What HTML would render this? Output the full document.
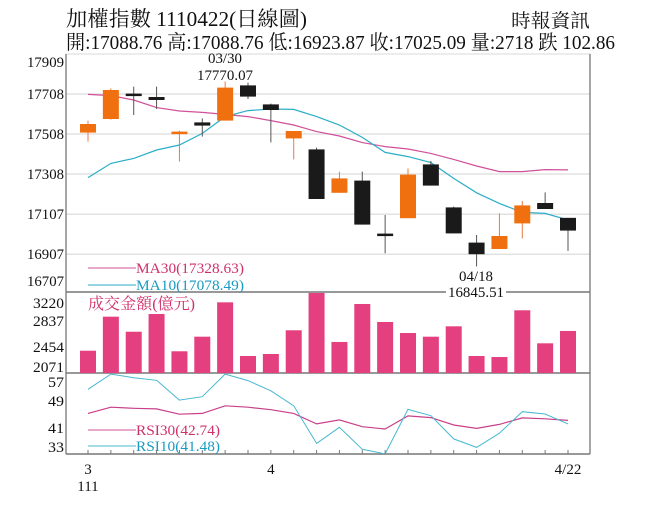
<!DOCTYPE html>
<html><head><meta charset="utf-8">
<style>
html,body{margin:0;padding:0;background:#fff;}
svg{display:block;}
text{font-family:"Liberation Serif","Noto Serif CJK TC","Noto Serif CJK SC",serif;}
</style></head>
<body>
<svg id="chart" width="656" height="506" viewBox="0 0 656 506" xmlns="http://www.w3.org/2000/svg">
  <text x="66" y="26" font-size="21" textLength="241" lengthAdjust="spacingAndGlyphs" fill="#111">加權指數 1110422(日線圖)</text>
  <text x="511" y="27" font-size="19" textLength="79" lengthAdjust="spacingAndGlyphs" fill="#111">時報資訊</text>
  <text x="66" y="49" font-size="20" textLength="549" lengthAdjust="spacingAndGlyphs" fill="#111">開:17088.76 高:17088.76 低:16923.87 收:17025.09 量:2718 跌 102.86</text>
  <g id="frame"></g>
  <g id="price"></g>
  <g id="vol"></g>
  <g id="rsi"></g>
  <g id="xaxis"></g>
</svg>
<script>
const opens  = [17515,17583,17710,17693,17511,17566,17575,17751,17656,17486,17431,17214,17275,17010,17087,17356,17141,16965,16933,17061,17163,17088.76];
const closes = [17558,17728,17700,17678,17520,17550,17740,17695,17628,17523,17183,17286,17055,16998,17305,17250,17011,16907,16998,17151,17133,17025.09];
const highs  = [17575,17736,17745,17745,17525,17586,17770.07,17765,17660,17523,17440,17320,17320,17103,17336,17373,17145,17003,17111,17173,17216,17088.76];
const lows   = [17470,17580,17603,17633,17370,17495,17575,17683,17466,17381,17183,17214,17055,16912,17087,17250,17011,16845.51,16933,16986,17133,16923.87];
const ma30   = [17706,17700,17678,17640,17623,17616,17606,17595,17575,17553,17520,17498,17465,17445,17433,17411,17381,17348,17320,17320,17330,17328.63];
const ma10   = [17290,17361,17386,17428,17453,17511,17595,17625,17633,17631,17595,17553,17491,17416,17395,17365,17286,17214,17161,17116,17111,17078.49];
const volumes= [2363,2974,2704,3022,2353,2615,3232,2268,2304,2730,3405,2520,3202,2879,2681,2615,2801,2268,2250,3089,2496,2718];
const rsi30  = [45.2,47.4,47.0,46.8,44.9,45.2,47.9,47.4,46.5,45.2,41.5,42.9,40.5,39.7,44.3,43.7,41.1,39.9,41.3,43.6,43.3,42.74];
const rsi10  = [53.7,59.1,57.8,56.9,49.9,51.1,59.1,56.8,53.2,47.9,34.6,40.3,32.5,30.9,46.6,44.4,36.2,33.2,38.2,45.8,45.0,41.48];
const priceTicks = [17909,17708,17508,17308,17107,16907,16707];
const volTicks = ["3220","2837","2454","2071"];
const rsiTicks = ["57","49","41","33"];
const xLabels = [{i:0,t:"3"},{i:8,t:"4"},{i:21,t:"4/22"}];

const NS="http://www.w3.org/2000/svg";
function mk(parent,tag,attrs,txt){const e=document.createElementNS(NS,tag);for(const k in attrs)e.setAttribute(k,attrs[k]);if(txt!==undefined)e.textContent=txt;parent.appendChild(e);return e;}
const L=66,R=590,PT=54,PB=292,VB=373,RB=454;
const xS=i=>88+i*(568-88)/21;
const yP=p=>94+(17708-p)*0.2;
const yV=v=>VB-(v-1963)*0.0557;
const yR=r=>380+(57-r)*2.83;

const frame=document.getElementById('frame');
// grid lines
[17708,17508,17308,17107,16907].forEach(p=>{
  const g=mk(frame,'line',{x1:L,x2:R,y1:yP(p),y2:yP(p),stroke:'#e2e2e2','stroke-width':1.5});
  
  
});
let e;
e=mk(frame,'line',{x1:L,x2:R,y1:PT,y2:PT,stroke:'#d8d8d8','stroke-width':1});

e=mk(frame,'line',{x1:L,x2:L,y1:PT,y2:RB,stroke:'#888','stroke-width':1.5});

e=mk(frame,'line',{x1:R,x2:R,y1:PT,y2:RB,stroke:'#888','stroke-width':1.5});

[PB,VB,RB].forEach(y=>{
  const l=mk(frame,'line',{x1:L,x2:R,y1:y,y2:y,stroke:'#777','stroke-width':1.5});
  
  
});

// price panel
const price=document.getElementById('price');
priceTicks.forEach((p,k)=>{
  const y = k===priceTicks.length-1 ? 286 : Math.max(yP(p),62)+5;
  const t=mk(price,'text',{x:27,y:y,'font-size':15,textLength:37,lengthAdjust:'spacingAndGlyphs',fill:'#111'},String(p));
  
  
});
function line(parent,arr,yf,color,name,w){
  const pts=arr.map((v,i)=>xS(i).toFixed(1)+','+yf(v).toFixed(1)).join(' ');
  const pl=mk(parent,'polyline',{points:pts,fill:'none',stroke:color,'stroke-width':w||1.2});
  
  
}
line(price,ma30,yP,'#d0509a','ma30-line');
line(price,ma10,yP,'#2aaec8','ma10-line');
opens.forEach((o,i)=>{
  const c=closes[i],up=c>=o,col=up?'#f07010':'#1a1a1a',x=xS(i);
  const w=mk(price,'line',{x1:x,x2:x,y1:yP(highs[i]),y2:yP(lows[i]),stroke:up?'#e87a40':'#555','stroke-width':1});
  
  
  const top=yP(Math.max(o,c)),h=Math.max(2.5,yP(Math.min(o,c))-top);
  const b=mk(price,'rect',{x:x-8,y:top,width:16,height:h,fill:col});
  
  
});
e=mk(price,'text',{x:225,y:63,'font-size':15,'text-anchor':'middle',textLength:34,lengthAdjust:'spacingAndGlyphs',fill:'#111'},'03/30');

e=mk(price,'text',{x:225,y:80,'font-size':15,'text-anchor':'middle',textLength:56,lengthAdjust:'spacingAndGlyphs',fill:'#111'},'17770.07');

e=mk(price,'text',{x:476,y:281,'font-size':15,'text-anchor':'middle',textLength:34,lengthAdjust:'spacingAndGlyphs',fill:'#111'},'04/18');

e=mk(price,'rect',{x:446,y:285,width:60,height:14,fill:'#fff'});

e=mk(price,'text',{x:476,y:297,'font-size':15,'text-anchor':'middle',textLength:56,lengthAdjust:'spacingAndGlyphs',fill:'#111'},'16845.51');

// legend
e=mk(price,'line',{x1:88,x2:136,y1:268,y2:268,stroke:'#d0509a','stroke-width':1});

e=mk(price,'text',{x:136,y:273,'font-size':15,textLength:108,lengthAdjust:'spacingAndGlyphs',fill:'#d0306a'},'MA30(17328.63)');

e=mk(price,'line',{x1:88,x2:136,y1:285,y2:285,stroke:'#2aaec8','stroke-width':1});

e=mk(price,'text',{x:136,y:290,'font-size':15,textLength:108,lengthAdjust:'spacingAndGlyphs',fill:'#1a9ac0'},'MA10(17078.49)');


// volume
const vol=document.getElementById('vol');
const volY=[303,321,347,367];
volTicks.forEach((t,k)=>{
  const tx=mk(vol,'text',{x:33,y:volY[k]+5,'font-size':15,textLength:31,lengthAdjust:'spacingAndGlyphs',fill:'#111'},t);
  
  
});
volumes.forEach((v,i)=>{
  const y=Math.max(PB+1,yV(v));
  const b=mk(vol,'rect',{x:xS(i)-8,y:y,width:16,height:VB-y,fill:'#e4407f'});
  
  
});
e=mk(vol,'text',{x:88,y:309,'font-size':16,textLength:107,lengthAdjust:'spacingAndGlyphs',fill:'#d0306a'},'成交金額(億元)');


// rsi
const rsi=document.getElementById('rsi');
const rsiY=[382,401,428,447];
rsiTicks.forEach((t,k)=>{
  const tx=mk(rsi,'text',{x:48,y:rsiY[k]+5,'font-size':15,textLength:16,lengthAdjust:'spacingAndGlyphs',fill:'#111'},t);
  
  
});
const cp=mk(rsi,'clipPath',{id:'rclip'});mk(cp,'rect',{x:L,y:VB,width:R-L,height:RB-VB});
const rg=mk(rsi,'g',{'clip-path':'url(#rclip)'});
line(rg,rsi30,yR,'#c8408a','rsi30-line');
line(rg,rsi10,yR,'#48b8d0','rsi10-line',1);
e=mk(rsi,'line',{x1:88,x2:136,y1:430,y2:430,stroke:'#d0509a','stroke-width':1});

e=mk(rsi,'text',{x:136,y:435,'font-size':15,textLength:84,lengthAdjust:'spacingAndGlyphs',fill:'#d0306a'},'RSI30(42.74)');

e=mk(rsi,'line',{x1:88,x2:136,y1:446,y2:446,stroke:'#48b8d0','stroke-width':1});

e=mk(rsi,'text',{x:136,y:451,'font-size':15,textLength:84,lengthAdjust:'spacingAndGlyphs',fill:'#1a9ac0'},'RSI10(41.48)');


// x axis
const xa=document.getElementById('xaxis');
opens.forEach((o,i)=>{
  const t=mk(xa,'line',{x1:xS(i),x2:xS(i),y1:RB-4,y2:RB,stroke:'#777','stroke-width':1});
  
  
});
xLabels.forEach(d=>{
  const t=mk(xa,'text',{x:xS(d.i),y:474,'font-size':15,'text-anchor':'middle',fill:'#111'},d.t);
  
  
});
e=mk(xa,'text',{x:xS(0),y:491,'font-size':15,'text-anchor':'middle',fill:'#111'},'111');

</script>
</body></html>
